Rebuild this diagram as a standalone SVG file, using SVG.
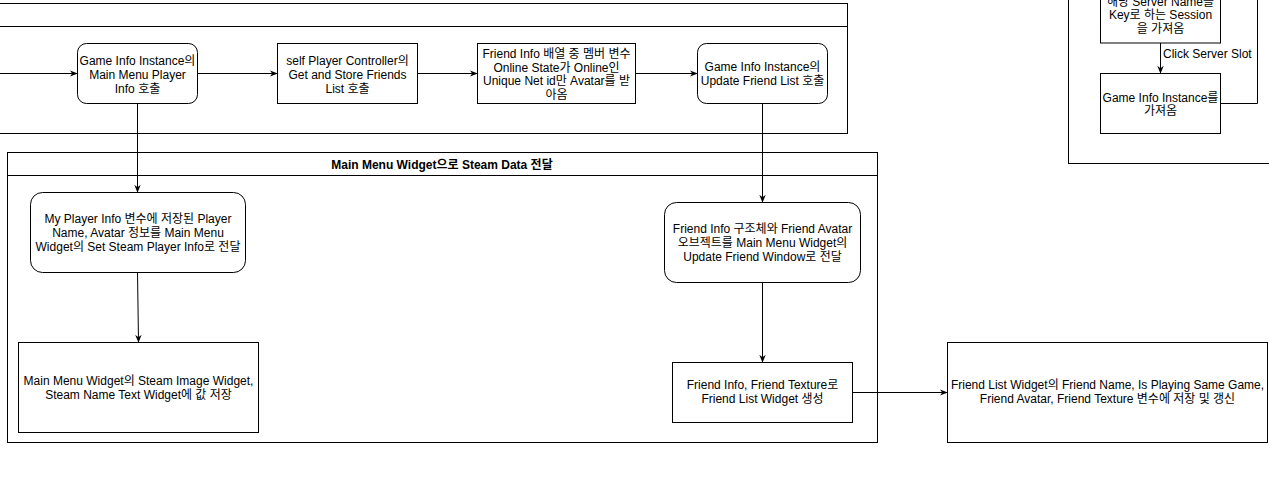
<svg xmlns="http://www.w3.org/2000/svg" width="1269" height="484" viewBox="0 0 1269 484">
<defs>
<style>
.box{fill:#fff;stroke:#000;stroke-width:1}
.cont{fill:none;stroke:#000;stroke-width:1}
.t{font-family:"Liberation Sans",Arial,"Noto Sans CJK KR",sans-serif;font-size:12px;fill:#000;text-anchor:middle}
.b{font-weight:bold}
.edge{fill:none;stroke:#000;stroke-width:1}
.arr{marker-end:url(#ah)}
</style>
<marker id="ah" viewBox="0 0 10 10" refX="9" refY="5" markerWidth="8" markerHeight="8" markerUnits="userSpaceOnUse" orient="auto">
<path d="M0,1 L10,5 L0,9 L3,5 Z" fill="#000"/>
</marker>
</defs>
<rect width="1269" height="484" fill="#fff"/>

<g id="container-top">
<rect class="cont" x="-10" y="3.5" width="857.5" height="130"/>
<line class="cont" x1="-10" y1="26.5" x2="847.5" y2="26.5"/>
</g>
<g id="container-main-menu">
<rect class="cont" x="7.5" y="152.5" width="870" height="290"/>
<line class="cont" x1="7.5" y1="175.5" x2="877.5" y2="175.5"/>
<text class="t b" x="442" y="168.5">Main Menu Widget으로 Steam Data 전달</text>
</g>
<g id="container-right">
<rect class="cont" x="1068.5" y="-10" width="220" height="173.5"/>
</g>

<g id="connectors">
<line class="edge arr" x1="0" y1="73.5" x2="77" y2="73.5"/>
<line class="edge arr" x1="197" y1="73.5" x2="277" y2="73.5"/>
<line class="edge arr" x1="417" y1="73.5" x2="477" y2="73.5"/>
<line class="edge arr" x1="635" y1="73.5" x2="697" y2="73.5"/>
<line class="edge arr" x1="137.5" y1="103" x2="137.5" y2="192"/>
<line class="edge arr" x1="137.5" y1="272" x2="138.5" y2="342"/>
<line class="edge arr" x1="762.5" y1="103" x2="762.5" y2="202"/>
<line class="edge arr" x1="762.5" y1="282" x2="762.5" y2="362"/>
<line class="edge arr" x1="852" y1="392.5" x2="947" y2="392.5"/>
<line class="edge arr" x1="1160.5" y1="43" x2="1160.5" y2="73"/>
<polyline class="edge" points="1220,103.5 1257.5,103.5 1257.5,-5"/>
<text class="t" style="text-anchor:start" x="1163" y="57.5">Click Server Slot</text>
</g>

<g id="node-main-menu-player-info">
<rect class="box" x="77.5" y="43.5" width="120" height="60" rx="9"/>
<text class="t" x="137.5" y="64.5">Game Info Instance의</text>
<text class="t" x="137.5" y="78.5">Main Menu Player</text>
<text class="t" x="137.5" y="92.5">Info 호출</text>
</g>
<g id="node-get-store-friends">
<rect class="box" x="277.5" y="43.5" width="140" height="60"/>
<text class="t" x="347.5" y="64.5">self Player Controller의</text>
<text class="t" x="347.5" y="78.5">Get and Store Friends</text>
<text class="t" x="347.5" y="92.5">List 호출</text>
</g>
<g id="node-friend-info-array">
<rect class="box" x="477.5" y="43.5" width="158" height="60"/>
<text class="t" x="556.5" y="58">Friend Info 배열 중 멤버 변수</text>
<text class="t" x="556.5" y="71.5">Online State가 Online인</text>
<text class="t" x="556.5" y="85">Unique Net id만 Avatar를 받</text>
<text class="t" x="556.5" y="98.5">아옴</text>
</g>
<g id="node-update-friend-list">
<rect class="box" x="697.5" y="43.5" width="130" height="60" rx="9"/>
<text class="t" x="762.5" y="71">Game Info Instance의</text>
<text class="t" x="762.5" y="85">Update Friend List 호출</text>
</g>
<g id="node-my-player-info">
<rect class="box" x="30.5" y="192.5" width="215" height="80" rx="12"/>
<text class="t" x="138" y="223">My Player Info 변수에 저장된 Player</text>
<text class="t" x="138" y="237">Name, Avatar 정보를 Main Menu</text>
<text class="t" x="138" y="251">Widget의 Set Steam Player Info로 전달</text>
</g>
<g id="node-steam-image-widget">
<rect class="box" x="18.5" y="342.5" width="240" height="90"/>
<text class="t" x="138.5" y="385">Main Menu Widget의 Steam Image Widget,</text>
<text class="t" x="138.5" y="399">Steam Name Text Widget에 값 저장</text>
</g>
<g id="node-friend-info-struct">
<rect class="box" x="664.5" y="202.5" width="196" height="80" rx="12"/>
<text class="t" x="762.5" y="233">Friend Info 구조체와 Friend Avatar</text>
<text class="t" x="762.5" y="247">오브젝트를 Main Menu Widget의</text>
<text class="t" x="762.5" y="261">Update Friend Window로 전달</text>
</g>
<g id="node-create-friend-list-widget">
<rect class="box" x="672.5" y="362.5" width="180" height="60"/>
<text class="t" x="762.5" y="389">Friend Info, Friend Texture로</text>
<text class="t" x="762.5" y="403">Friend List Widget 생성</text>
</g>
<g id="node-friend-list-widget-store">
<rect class="box" x="947.5" y="342.5" width="320" height="100"/>
<text class="t" x="1107.5" y="389">Friend List Widget의 Friend Name, Is Playing Same Game,</text>
<text class="t" x="1107.5" y="403">Friend Avatar, Friend Texture 변수에 저장 및 갱신</text>
</g>
<g id="node-get-session">
<rect class="box" x="1100.5" y="-20" width="120" height="63"/>
<text class="t" x="1160.5" y="5.5">해당 Server Name을</text>
<text class="t" x="1160.5" y="19">Key로 하는 Session</text>
<text class="t" x="1160.5" y="32.5">을 가져옴</text>
</g>
<g id="node-get-game-info-instance">
<rect class="box" x="1100.5" y="73.5" width="120" height="60"/>
<text class="t" x="1160.5" y="101.5">Game Info Instance를</text>
<text class="t" x="1160.5" y="115">가져옴</text>
</g>
</svg>
